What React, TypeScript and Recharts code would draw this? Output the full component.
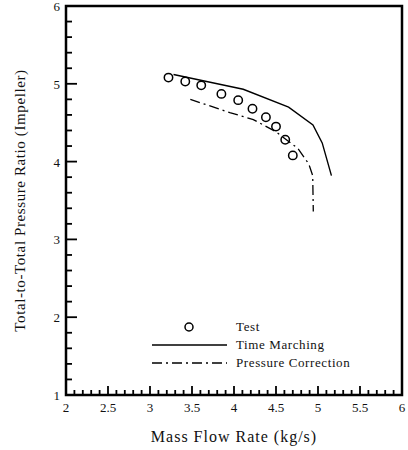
import { ComposedChart, Line, Scatter, XAxis, YAxis, ReferenceArea } from 'recharts';

// test data (circles)
const testFlow = [3.22, 3.42, 3.61, 3.85, 4.05, 4.22, 4.38, 4.5, 4.61, 4.7];
const testRatio = [5.08, 5.03, 4.98, 4.87, 4.79, 4.68, 4.57, 4.45, 4.28, 4.08];

// time marching (solid)
const timeMarchFlow = [3.28, 4.11, 4.65, 4.94, 5.05, 5.16];
const timeMarchRatio = [5.12, 4.93, 4.7, 4.47, 4.24, 3.82];

// pressure correction (dash-dot)
const pressCorrFlow = [3.48, 3.95, 4.23, 4.49, 4.76, 4.89, 4.937, 4.944];
const pressCorrRatio = [4.8, 4.63, 4.54, 4.39, 4.17, 3.97, 3.82, 3.36];

const xLabels = [2, 2.5, 3, 3.5, 4, 4.5, 5, 5.5, 6];
const yLabels = [1, 2, 3, 4, 5, 6];

const xTicks = Array.from({ length: 41 }, (_, i) => Math.round((2 + i * 0.1) * 10) / 10);
const yTicks = Array.from({ length: 26 }, (_, i) => Math.round((1 + i * 0.2) * 10) / 10);

const zip = (xs: number[], ys: number[]) => xs.map((x, i) => ({ x, y: ys[i] }));
const testData = zip(testFlow, testRatio);
const timeMarchData = zip(timeMarchFlow, timeMarchRatio);
const pressCorrData = zip(pressCorrFlow, pressCorrRatio);

const FONT = '"Liberation Serif", "Times New Roman", serif';
const DASHDOT = '10 4 2 4';

const XTick = (props: any) => {
  const { x, y, payload } = props;
  const v = Math.round(payload.value * 10) / 10;
  const major = xLabels.includes(v);
  return (
    <g>
      <line x1={x} x2={x} y1={y} y2={y - (major ? 9 : 5)} stroke="#000" strokeWidth={1.8} />
      {major && (
        <text x={x} y={y + 17} textAnchor="middle" fontFamily={FONT} fontSize={13} fill="#111">
          {v}
        </text>
      )}
    </g>
  );
};

const YTick = (props: any) => {
  const { x, y, payload } = props;
  const v = Math.round(payload.value * 10) / 10;
  const major = yLabels.includes(v);
  return (
    <g>
      <line x1={x} x2={x + (major ? 11 : 6)} y1={y} y2={y} stroke="#000" strokeWidth={1.8} />
      {major && (
        <text x={x - 6} y={y + 5} textAnchor="end" fontFamily={FONT} fontSize={13} fill="#111">
          {v}
        </text>
      )}
    </g>
  );
};

const legendRows = [
  { name: 'Test', kind: 'circle' },
  { name: 'Time Marching', kind: 'solid' },
  { name: 'Pressure Correction', kind: 'dashdot' },
];

const ChartLegend = () => (
  <div
    style={{
      position: 'absolute',
      left: 152,
      top: 318,
      fontFamily: FONT,
      fontSize: 13,
      color: '#111',
      letterSpacing: 0.6,
      lineHeight: '18px',
    }}
  >
    {legendRows.map((r) => (
      <div key={r.name} style={{ display: 'flex', alignItems: 'center', height: 18 }}>
        <svg width={84} height={18} style={{ display: 'block' }}>
          {r.kind === 'circle' && <circle cx={37} cy={9} r={4} fill="none" stroke="#000" strokeWidth={1.5} />}
          {r.kind === 'solid' && <line x1={0} x2={75} y1={9} y2={9} stroke="#000" strokeWidth={1.3} />}
          {r.kind === 'dashdot' && (
            <line x1={0} x2={75} y1={9} y2={9} stroke="#000" strokeWidth={1.3} strokeDasharray={DASHDOT} />
          )}
        </svg>
        <span>{r.name}</span>
      </div>
    ))}
  </div>
);

export default function App() {
  return (
    <div style={{ position: 'absolute', left: 0, top: 0, width: 408, height: 450, background: '#fff' }}>
      <ComposedChart width={408} height={450} margin={{ top: 6, right: 6, left: 6, bottom: 0 }}>
        <ReferenceArea x1={2} x2={6} y1={1} y2={6} fill="none" stroke="#000" strokeWidth={2.5} ifOverflow="visible" />
        <XAxis
          type="number"
          dataKey="x"
          domain={[2, 6]}
          ticks={xTicks}
          interval={0}
          tick={<XTick />}
          tickLine={false}
          tickSize={0}
          tickMargin={0}
          axisLine={false}
          height={55}
          allowDataOverflow
          label={{
            value: 'Mass Flow Rate (kg/s)',
            position: 'insideBottom',
            offset: 8,
            style: { fontFamily: FONT, fontSize: 16, fill: '#111', letterSpacing: 1 },
          }}
        />
        <YAxis
          type="number"
          dataKey="y"
          domain={[1, 6]}
          ticks={yTicks}
          interval={0}
          tick={<YTick />}
          tickLine={false}
          tickSize={0}
          tickMargin={0}
          axisLine={false}
          width={60}
          allowDataOverflow
          label={{
            value: 'Total-to-Total Pressure Ratio (Impeller)',
            angle: -90,
            position: 'insideLeft',
            offset: 14,
            style: { fontFamily: FONT, fontSize: 15, fill: '#111', letterSpacing: 0.6, textAnchor: 'middle' },
          }}
        />
        <Line
          data={timeMarchData}
          dataKey="y"
          type="linear"
          stroke="#000"
          strokeWidth={1.4}
          dot={false}
          isAnimationActive={false}
        />
        <Line
          data={pressCorrData}
          dataKey="y"
          type="linear"
          stroke="#000"
          strokeWidth={1.3}
          strokeDasharray={DASHDOT}
          dot={false}
          isAnimationActive={false}
        />
        <Scatter
          data={testData}
          dataKey="y"
          isAnimationActive={false}
          shape={(p: any) => <circle cx={p.cx} cy={p.cy} r={4.2} fill="none" stroke="#000" strokeWidth={1.5} />}
        />
      </ComposedChart>
      <ChartLegend />
    </div>
  );
}
